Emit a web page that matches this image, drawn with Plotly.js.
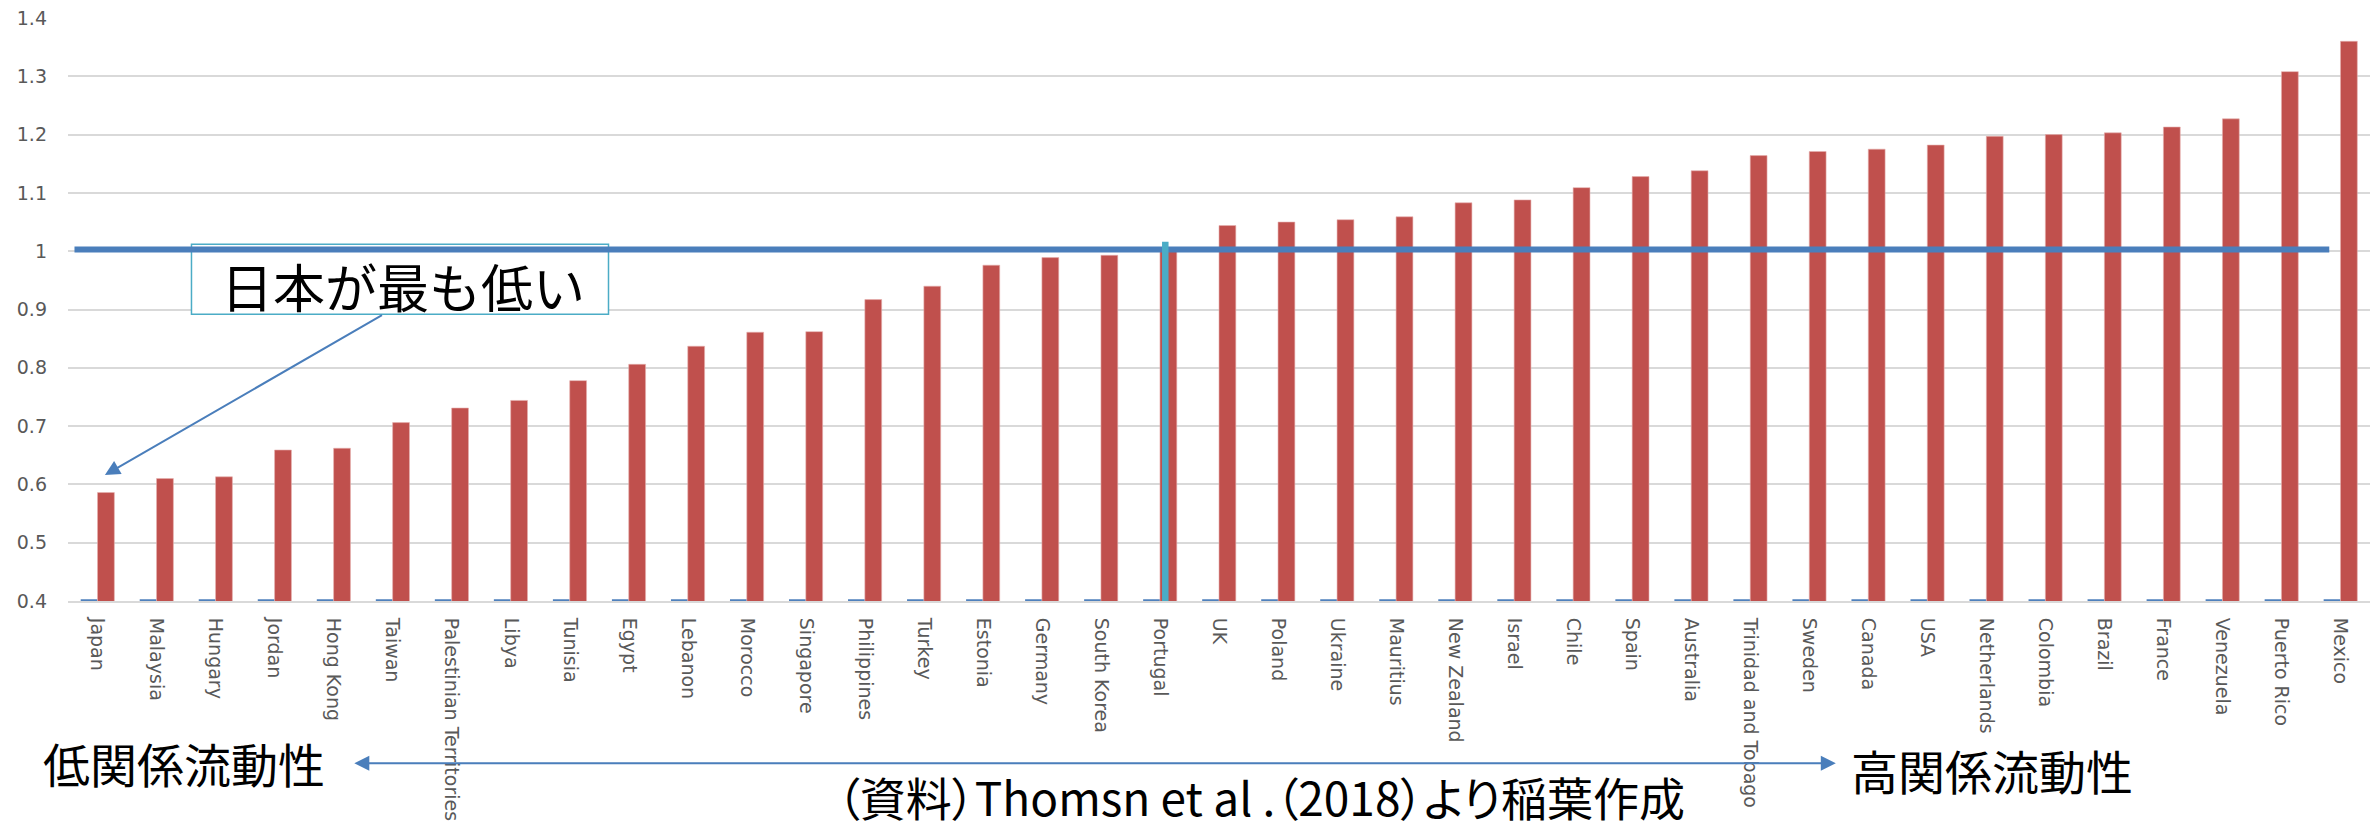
<!DOCTYPE html>
<html>
<head>
<meta charset="utf-8">
<script src="https://cdn.plot.ly/plotly-3.0.1.min.js"></script>
<style>
  html, body { margin: 0; padding: 0; background: #ffffff; }
  #chart { width: 2379px; height: 829px; }
  /* proportional CJK widths for the source line */
  #chart .annotation[data-index="4"] text { font-feature-settings: "palt"; }
</style>
</head>
<body>
<div id="chart"></div>
<script>
// Countries ordered from lowest to highest relational mobility
const countries = [
  "Japan", "Malaysia", "Hungary", "Jordan", "Hong Kong", "Taiwan",
  "Palestinian Territories", "Libya", "Tunisia", "Egypt", "Lebanon",
  "Morocco", "Singapore", "Philippines", "Turkey", "Estonia", "Germany",
  "South Korea", "Portugal", "UK", "Poland", "Ukraine", "Mauritius",
  "New Zealand", "Israel", "Chile", "Spain", "Australia",
  "Trinidad and Tobago", "Sweden", "Canada", "USA", "Netherlands",
  "Colombia", "Brazil", "France", "Venezuela", "Puerto Rico", "Mexico"
];

// Relational mobility score per country
const mobility = [
  0.586, 0.610, 0.613, 0.659, 0.662, 0.706,
  0.731, 0.744, 0.778, 0.806, 0.837,
  0.861, 0.862, 0.917, 0.940, 0.976, 0.989,
  0.993, 1.000, 1.044, 1.050, 1.054, 1.059,
  1.083, 1.088, 1.109, 1.128, 1.138,
  1.164, 1.171, 1.175, 1.182, 1.197,
  1.200, 1.203, 1.213, 1.227, 1.308, 1.360
];

// Companion series that sits on the axis floor
const baseSeries = [
  0.403, 0.403, 0.403, 0.403, 0.403, 0.403,
  0.403, 0.403, 0.403, 0.403, 0.403,
  0.403, 0.403, 0.403, 0.403, 0.403, 0.403,
  0.403, 0.403, 0.403, 0.403, 0.403, 0.403,
  0.403, 0.403, 0.403, 0.403, 0.403,
  0.403, 0.403, 0.403, 0.403, 0.403,
  0.403, 0.403, 0.403, 0.403, 0.403, 0.403
];

const referenceLevel = 1.003;
const highlightCountry = "Portugal";

const calloutText = "日本が最も低い";
const lowLabel = "低関係流動性";
const highLabel = "高関係流動性";
const sourceText = "（資料）Thomsn et al .（2018）より稲葉作成";

const W = 2379, H = 829;
const M = { l: 68, r: 9, t: 18, b: 228 };
const plotW = W - M.l - M.r, plotH = H - M.t - M.b;
// pixel -> paper helpers for annotations below the plot area
const px = x => (x - M.l) / plotW;
const py = y => (H - M.b - y) / plotH;

const tickFont = { family: "DejaVu Sans, sans-serif", size: 19, color: "#595959" };
const jpFont = "Noto Sans CJK JP, sans-serif";
const lineBlue = "#4a7ebb";
const cyan = "#4bacc6";

const hiIdx = countries.indexOf(highlightCountry);

const traces = [
  {
    type: "bar", x: countries, y: baseSeries,
    marker: { color: "#4f81bd" }, hoverinfo: "skip", showlegend: false
  },
  {
    type: "bar", x: countries, y: mobility,
    marker: { color: "#c0504d", line: { color: "#e6b0ae", width: 0.6 } },
    showlegend: false
  }
];

const layout = {
  width: W, height: H,
  margin: { l: M.l, r: M.r, t: M.t, b: M.b, pad: 0 },
  paper_bgcolor: "#ffffff", plot_bgcolor: "#ffffff",
  barmode: "group", bargap: 0.43, bargroupgap: 0,
  showlegend: false,
  xaxis: {
    type: "category", range: [-0.5, countries.length - 0.5],
    tickangle: 90, tickfont: tickFont, ticks: "", showgrid: false,
    showline: true, linecolor: "#d9d9d9", linewidth: 2,
    zeroline: false, automargin: false, ticklabelstandoff: 11
  },
  yaxis: {
    range: [0.4, 1.4], tick0: 0.4, dtick: 0.1, tickfont: tickFont,
    ticks: "", showgrid: true, gridcolor: "#d9d9d9", gridwidth: 2,
    zeroline: false, showline: false, automargin: false, ticklabelstandoff: 20
  },
  shapes: [
    // callout frame
    { type: "rect", xref: "x", yref: "y", x0: 1.592, x1: 8.657, y0: 0.8918, y1: 1.0118,
      fillcolor: "#ffffff", line: { color: cyan, width: 1.5 }, layer: "above" },
    // reference level line
    { type: "line", xref: "x", yref: "y", x0: -0.39, x1: 37.81,
      y0: referenceLevel, y1: referenceLevel, line: { color: lineBlue, width: 6 }, layer: "above" },
    // marker at the country crossing the reference level
    { type: "line", xref: "x", yref: "y", x0: hiIdx + 0.09, x1: hiIdx + 0.09,
      y0: 0.395, y1: 1.016, line: { color: cyan, width: 6.5 }, layer: "above" }
  ],
  annotations: [
    { xref: "x", yref: "y", x: 5.167, y: 0.9407, text: calloutText, showarrow: false,
      font: { family: jpFont, size: 52, color: "#000000" }, xanchor: "center", yanchor: "middle" },
    { xref: "x", yref: "y", x: 0.125, y: 0.616, axref: "x", ayref: "y", ax: 4.845, ay: 0.8918,
      text: "", showarrow: true, arrowhead: 2, arrowsize: 1.5, arrowwidth: 2,
      arrowcolor: lineBlue, standoff: 0, startstandoff: 0 },
    { xref: "paper", yref: "paper", x: px(184), y: py(762.5), text: lowLabel, showarrow: false,
      font: { family: jpFont, size: 47, color: "#000000" }, xanchor: "center", yanchor: "middle" },
    { xref: "paper", yref: "paper", x: px(1992), y: py(769), text: highLabel, showarrow: false,
      font: { family: jpFont, size: 47, color: "#000000" }, xanchor: "center", yanchor: "middle" },
    { xref: "paper", yref: "paper", x: px(1261), y: py(796), text: sourceText, showarrow: false,
      font: { family: jpFont, size: 46, color: "#000000" }, xanchor: "center", yanchor: "middle" },
    { xref: "paper", yref: "paper", x: px(354.3), y: py(763.3), ax: 1837.3 - 354.3, ay: 0,
      text: "", showarrow: true, arrowside: "end+start", arrowhead: 2, startarrowhead: 2,
      arrowsize: 1.5, startarrowsize: 1.5, arrowwidth: 2, arrowcolor: lineBlue,
      standoff: 0, startstandoff: 0 }
  ]
};

Plotly.newPlot("chart", traces, layout, { displayModeBar: false, staticPlot: true });
</script>
</body>
</html>
